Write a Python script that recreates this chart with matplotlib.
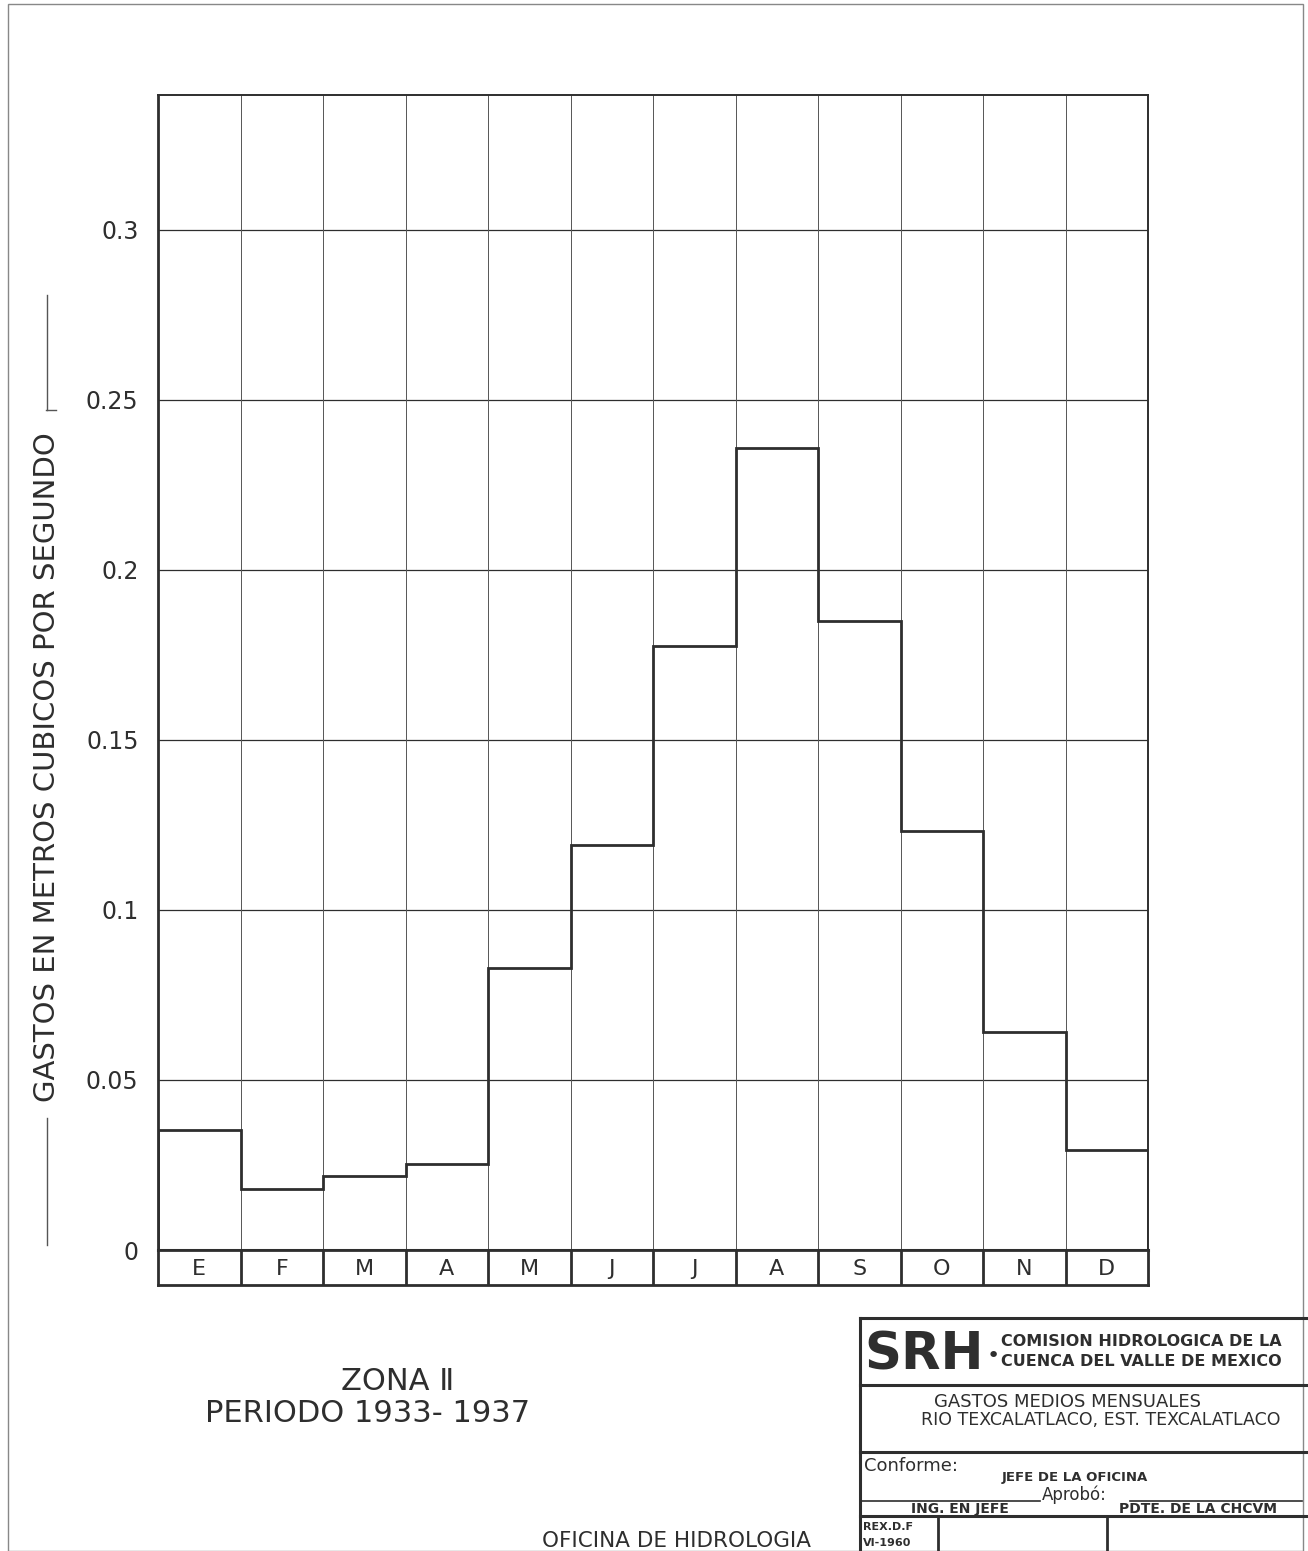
import numpy as np
import matplotlib
matplotlib.use("Agg")
import matplotlib.pyplot as plt
from matplotlib.patches import Rectangle
from matplotlib.lines import Line2D

months = ["E", "F", "M", "A", "M", "J", "J", "A", "S", "O", "N", "D"]
gastos = [0.0353, 0.0179, 0.0218, 0.0253, 0.0829, 0.1190, 0.1776, 0.2359, 0.1850, 0.1232, 0.0641, 0.0294]
yticks = [0, 0.05, 0.1, 0.15, 0.2, 0.25, 0.3]
ytick_labels = ["0", "0.05", "0.1", "0.15", "0.2", "0.25", "0.3"]

INK = "#2e2e2e"
FONT = ["DejaVu Sans"]

W, H = 1308, 1551
fig = plt.figure(figsize=(W / 100, H / 100), dpi=100)
fig.patch.set_facecolor("white")

def fx(px):
    return px / W

def fy(py):
    return 1 - py / H

# page border
fig.add_artist(Rectangle((fx(8), fy(1551)), fx(1303) - fx(8), fy(4) - fy(1551),
                         transform=fig.transFigure, fill=False, edgecolor="#888888", lw=1.0))

# main axes
x0, x1, ytop, yzero = 158, 1148, 95, 1250
ax = fig.add_axes([fx(x0), fy(yzero), fx(x1) - fx(x0), fy(ytop) - fy(yzero)])
ymax = 0.3397
ax.set_xlim(0, 12)
ax.set_ylim(0, ymax)
ax.set_yticks(yticks)
ax.set_yticklabels(ytick_labels, fontsize=17, color=INK, family=FONT)
ax.tick_params(axis="y", length=0, pad=14)
ax.set_xticks([])
for y in yticks[1:]:
    ax.axhline(y, color=INK, lw=0.9, zorder=1)
for x in range(1, 12):
    ax.axvline(x, color="#555555", lw=0.7, zorder=1)
for side in ["left", "right", "top", "bottom"]:
    ax.spines[side].set_color(INK)
ax.spines["left"].set_linewidth(2.0)
ax.spines["right"].set_linewidth(1.4)
ax.spines["top"].set_linewidth(1.4)
ax.spines["bottom"].set_linewidth(2.2)
ax.stairs(gastos, np.arange(13), baseline=0, fill=False, color=INK, lw=2.0, zorder=3)

# month row
axm = fig.add_axes([fx(x0), fy(1285), fx(x1) - fx(x0), fy(1250) - fy(1285)])
axm.set_xlim(0, 12)
axm.set_ylim(0, 1)
axm.set_xticks([])
axm.set_yticks([])
for side in axm.spines.values():
    side.set_linewidth(2.0)
    side.set_color(INK)
for x in range(1, 12):
    axm.axvline(x, color=INK, lw=2.0)
for i, m in enumerate(months):
    axm.text(i + 0.5, 0.45, m, ha="center", va="center", fontsize=16,
             color=INK, family=FONT)

# y label with rules
fig.text(fx(47), fy(767), "GASTOS EN METROS CUBICOS POR SEGUNDO", rotation=90,
         ha="center", va="center", fontsize=21, color=INK, family=FONT)
fig.add_artist(Line2D([fx(47), fx(47)], [fy(1245), fy(1118)], transform=fig.transFigure,
                      color="#555555", lw=1.0))
fig.add_artist(Line2D([fx(47), fx(47)], [fy(410), fy(295)], transform=fig.transFigure,
                      color="#555555", lw=1.0))
fig.add_artist(Line2D([fx(46), fx(56)], [fy(410), fy(410)], transform=fig.transFigure,
                      color="#555555", lw=1.0))

# bottom texts
fig.text(fx(398), fy(1381), "ZONA Ⅱ", ha="center", va="center", fontsize=22,
         color=INK, family=FONT)
fig.text(fx(368), fy(1413), "PERIODO 1933- 1937", ha="center", va="center", fontsize=22,
         color=INK, family=FONT)
fig.text(fx(677), fy(1541), "OFICINA DE HIDROLOGIA", ha="center", va="center", fontsize=15.5,
         color=INK, family=FONT)

# title block
def hline(xa, xb, y, lw=2.0):
    fig.add_artist(Line2D([fx(xa), fx(xb)], [fy(y), fy(y)], transform=fig.transFigure,
                          color=INK, lw=lw))

def vline(x, ya, yb, lw=2.0):
    fig.add_artist(Line2D([fx(x), fx(x)], [fy(ya), fy(yb)], transform=fig.transFigure,
                          color=INK, lw=lw))

hline(860, 1308, 1318, 2.2)
vline(860, 1318, 1551, 2.2)
hline(860, 1308, 1385, 2.2)
hline(860, 1308, 1452, 2.2)
hline(860, 1308, 1516, 2.2)
vline(938, 1516, 1551, 2.0)
vline(1107, 1516, 1551, 2.0)
hline(862, 1040, 1501, 1.2)
hline(1130, 1302, 1501, 1.2)

fig.text(fx(864), fy(1355), "SRH", ha="left", va="center", fontsize=37, fontweight="heavy",
         color=INK, family=FONT)
fig.text(fx(993), fy(1356), "•", ha="center", va="center", fontsize=16, color=INK, family=FONT)
fig.text(fx(1001), fy(1341), "COMISION HIDROLOGICA DE LA", ha="left", va="center",
         fontsize=11.5, fontweight="bold", color=INK, family=FONT)
fig.text(fx(1001), fy(1362), "CUENCA DEL VALLE DE MEXICO", ha="left", va="center",
         fontsize=11.5, fontweight="bold", color=INK, family=FONT)
fig.text(fx(1068), fy(1402), "GASTOS MEDIOS MENSUALES", ha="center", va="center",
         fontsize=13, color=INK, family=FONT)
fig.text(fx(1101), fy(1420), "RIO TEXCALATLACO, EST. TEXCALATLACO", ha="center", va="center",
         fontsize=12.5, color=INK, family=FONT)
fig.text(fx(864), fy(1466), "Conforme:", ha="left", va="center", fontsize=13, color=INK, family=FONT)
fig.text(fx(1075), fy(1478), "JEFE DE LA OFICINA", ha="center", va="center", fontsize=9.5,
         fontweight="bold", color=INK, family=FONT)
fig.text(fx(1042), fy(1495), "Aprobó:", ha="left", va="center", fontsize=12, color=INK, family=FONT)
fig.text(fx(960), fy(1509), "ING. EN JEFE", ha="center", va="center", fontsize=10,
         fontweight="bold", color=INK, family=FONT)
fig.text(fx(1198), fy(1509), "PDTE. DE LA CHCVM", ha="center", va="center", fontsize=10,
         fontweight="bold", color=INK, family=FONT)
fig.text(fx(863), fy(1527), "REX.D.F", ha="left", va="center", fontsize=8,
         fontweight="bold", color=INK, family=FONT)
fig.text(fx(863), fy(1543), "VI-1960", ha="left", va="center", fontsize=8,
         fontweight="bold", color=INK, family=FONT)

fig.savefig("out.png", dpi=100, facecolor="white")
